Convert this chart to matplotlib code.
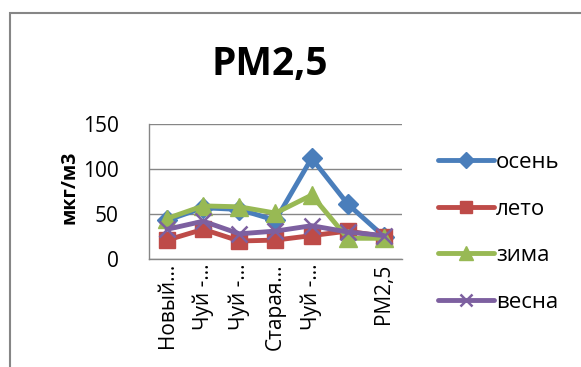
import matplotlib
matplotlib.use("Agg")
import matplotlib.pyplot as plt
from matplotlib.patches import Rectangle

plt.rcParams['font.family'] = ['Open Sans', 'DejaVu Sans']

categories = ["Новый…", "Чуй -…", "Чуй -…", "Старая…", "Чуй -…", "", "PM2,5"]
osen = [43, 57, 55, 43, 112, 61, 25]
leto = [21, 33, 20, 21, 26, 31, 25]
zima = [45, 59, 58, 51, 71, 23, 23]
vesna = [33, 42, 28, 31, 37, 30, 26]
series_names = ["осень", "лето", "зима", "весна"]
y_ticks = [0, 50, 100, 150]

colors = ["#4A7EBB", "#BE4B48", "#98B954", "#7D60A0"]
markers = ["D", "s", "^", "x"]
sizes = [10, 11, 13, 11]

fig = plt.figure(figsize=(5.81, 3.67), dpi=100)
ax = fig.add_axes([149/581, 1-259/367, (402-149)/581, (259-124)/367])

x = list(range(len(categories)))
for vals, name, c, m, s in zip([osen, leto, zima, vesna], series_names, colors, markers, sizes):
    if m == "x":
        ax.plot(x, vals, color=c, lw=3.5, marker=m, ms=s, mew=1.8, label=name,
                solid_capstyle='round')
    else:
        ax.plot(x, vals, color=c, lw=3.5, marker=m, ms=s, mec=c, label=name,
                solid_capstyle='round')

ax.set_xlim(-0.5, len(categories) - 0.5)
ax.set_ylim(0, 150)
ax.set_yticks(y_ticks)
ax.set_yticklabels([str(t) for t in y_ticks], fontsize=15)
ax.yaxis.grid(True, color="#868686", lw=1)
ax.set_axisbelow(True)
ax.set_xticks(x)
ax.set_xticklabels(categories, rotation=90, fontsize=15, va='top')
ax.tick_params(axis='x', length=0, pad=3)
ax.tick_params(axis='y', length=0, pad=22)
for s in ['top', 'right']:
    ax.spines[s].set_visible(False)
for s in ['left', 'bottom']:
    ax.spines[s].set_color("#868686")
    ax.spines[s].set_linewidth(1)

fig.text(70/581, 1-187/367, "мкг/м3", rotation=90, fontsize=14, fontweight='bold',
         ha='center', va='center')

fig.text(270/581, 1-64/367, "PM2,5", fontsize=28, fontweight='bold',
         ha='center', va='center')

leg = fig.legend(loc='upper left', bbox_to_anchor=(438/581, 1-152/367), frameon=False,
                 fontsize=16, handlelength=2.5, handletextpad=0.1, labelspacing=1.15,
                 borderpad=0, borderaxespad=0, markerscale=0.8)

bx = 9.5/581
by = 1 - 12.5/367
fig.add_artist(Rectangle((bx, -0.05), 1.2, by + 0.05, transform=fig.transFigure,
                         fill=False, edgecolor="#868686", lw=1.5, clip_on=False))

fig.savefig("out.png", dpi=100)
